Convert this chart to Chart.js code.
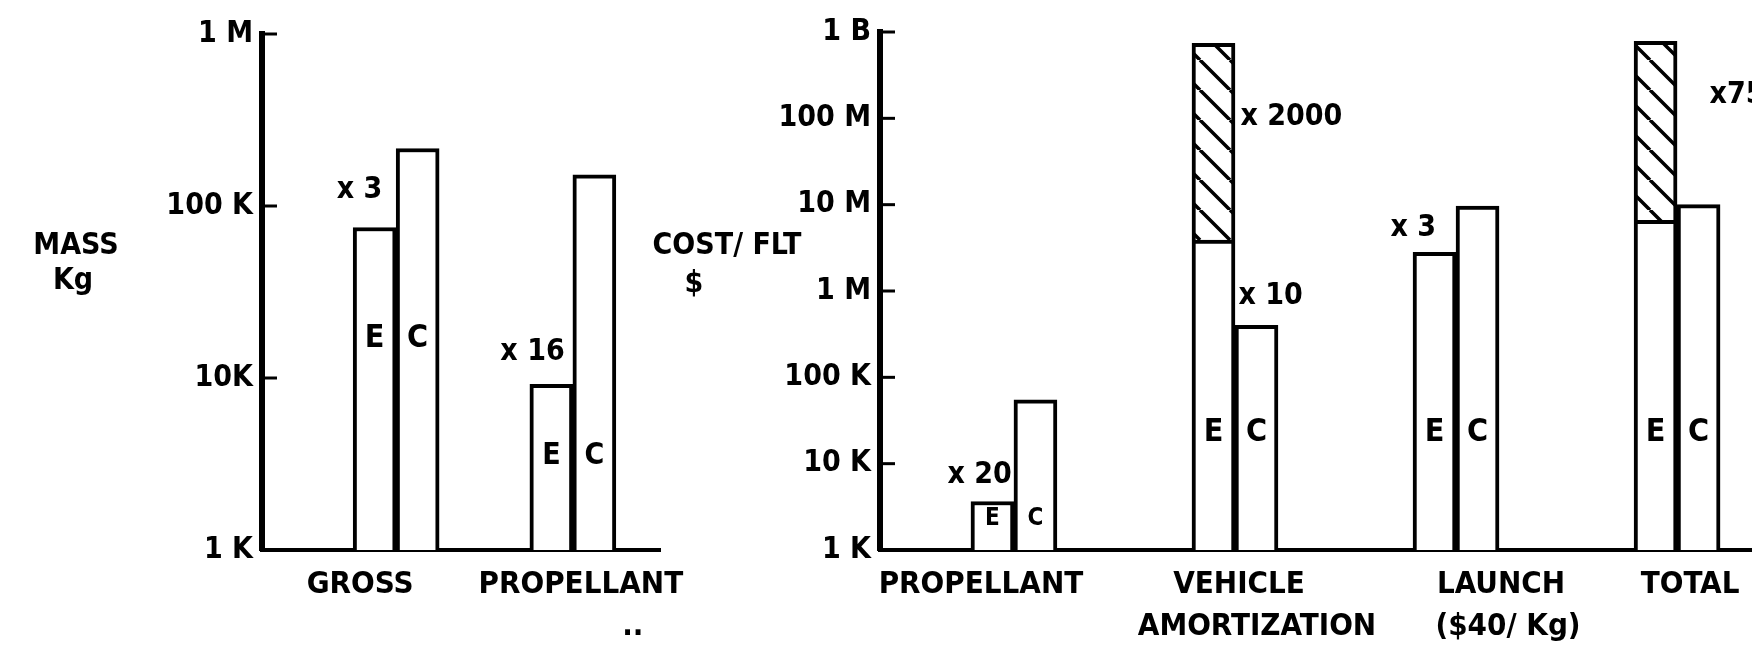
<!DOCTYPE html>
<html>
<head>
<meta charset="utf-8">
<script src="https://cdn.jsdelivr.net/npm/chart.js@4.4.1/dist/chart.umd.min.js"></script>
<style>
  html, body { margin: 0; padding: 0; background: #fff; }
  body { width: 1752px; height: 652px; position: relative; overflow: hidden; }
  canvas { position: absolute; top: 0; }
  #massChart { left: 0; }
  #costChart { left: 600px; }
</style>
</head>
<body>
<canvas id="massChart" width="700" height="652"></canvas>
<canvas id="costChart" width="1152" height="652"></canvas>
<script>
/* ===== E / C comparison: mass and cost per flight (log scales) ===== */
(function () {
  "use strict";

  // --- mass (Kg) ---
  var massCategories = [["GROSS"], ["PROPELLANT", ".."]];
  var massE = [75000, 9200];
  var massC = [216000, 152000];
  var massTickValues = [1e3, 1e4, 1e5, 1e6];
  var massTickLabels = ["1 K", "10K", "100 K", "1 M"];

  // --- cost per flight ($) ---
  var costCategories = [["PROPELLANT"], ["VEHICLE", "AMORTIZATION"], ["LAUNCH", "($40/ Kg)"], ["TOTAL"]];
  var costE = [3650, 3.9e6, 2.8e6, 6.6e6];
  var costEHatchTop = [null, 7.4e8, null, 7.8e8];   // hatched part of the E bar
  var costC = [55000, 400000, 9.6e6, 1.0e7];
  var costTickValues = [1e3, 1e4, 1e5, 1e6, 1e7, 1e8, 1e9];
  var costTickLabels = ["1 K", "10 K", "100 K", "1 M", "10 M", "100 M", "1 B"];

  var FONT = "'DejaVu Sans Condensed', 'Liberation Sans Narrow', 'DejaVu Sans', sans-serif";

  function hatchPattern(ctx) {
    var s = 30, c = document.createElement("canvas");
    c.width = s; c.height = s;
    var g = c.getContext("2d");
    g.fillStyle = "#fff"; g.fillRect(0, 0, s, s);
    g.strokeStyle = "#000"; g.lineWidth = 3.5;
    g.beginPath();
    [-s, 0, s].forEach(function (k) { g.moveTo(k, 0); g.lineTo(k + s, s); });
    g.stroke();
    return ctx.createPattern(c, "repeat");
  }

  function makeChart(id, cfg) {
    var el = document.getElementById(id);
    var bar = { borderColor: "#000", borderWidth: 4, barThickness: 43, borderSkipped: "start" };
    var datasets = [Object.assign({ label: "E", stack: "E", backgroundColor: "#fff",
      data: cfg.e.map(function (v, i) { return { x: i, y: v }; }) }, bar)];
    if (cfg.hatchTop) {
      var hd = [];
      cfg.hatchTop.forEach(function (t, i) { if (t) hd.push({ x: i, y: [cfg.e[i], t] }); });
      datasets.push(Object.assign({ label: "E (hatched)", stack: "E", backgroundColor: hatchPattern(el.getContext("2d")), data: hd }, bar));
    }
    datasets.push(Object.assign({ label: "C", stack: "C", backgroundColor: "#fff",
      data: cfg.c.map(function (v, i) { return { x: i, y: v }; }) }, bar));

    var notes = {
      id: "notes",
      afterDatasetsDraw: function (chart) {
        var ctx = chart.ctx, xs = chart.scales.x, ys = chart.scales.y, a = chart.chartArea;
        var eMeta = chart.getDatasetMeta(0), cMeta = chart.getDatasetMeta(datasets.length - 1);
        ctx.save();
        ctx.fillStyle = "#000"; ctx.strokeStyle = "#000";
        // tick marks pointing into the plot
        ctx.lineWidth = 3;
        ys.ticks.forEach(function (t, k) {
          if (k === 0) return;
          var y = ys.getPixelForValue(t.value);
          ctx.beginPath(); ctx.moveTo(a.left, y); ctx.lineTo(a.left + 15, y); ctx.stroke();
        });
        ctx.textBaseline = "middle"; ctx.textAlign = "center";
        // axis title (horizontal, left of the axis)
        ctx.font = "bold 30px " + FONT;
        cfg.title.forEach(function (t) { ctx.fillText(t.text, t.x, t.y); });
        // category names
        ctx.font = "bold 31px " + FONT;
        cfg.categories.forEach(function (lines, i) {
          lines.forEach(function (s, j) {
            ctx.fillText(s, xs.getPixelForValue(i) + cfg.labelNudge[i][j], a.bottom + 35 + j * 42);
          });
        });
        // E / C letters inside the bars
        cfg.categories.forEach(function (l, i) {
          var y = ys.getPixelForValue(cfg.letterAt[i]);
          ctx.font = "bold " + cfg.letterSize[i] + "px " + FONT;
          ctx.fillText("E", eMeta.data[i].x, y);
          ctx.fillText("C", cMeta.data[i].x, y);
        });
        // ratio notes
        ctx.font = "bold 30px " + FONT; ctx.textAlign = "left";
        cfg.notes.forEach(function (n) {
          var i = n.i, v, x;
          if (n.s === "E") { v = (cfg.hatchTop && cfg.hatchTop[i]) || cfg.e[i]; x = eMeta.data[i].x; }
          else { v = cfg.c[i]; x = cMeta.data[i].x; }
          ctx.fillText(n.text, x + n.dx, ys.getPixelForValue(v) + n.dy);
        });
        ctx.restore();
      }
    };

    return new Chart(el, {
      type: "bar",
      data: { datasets: datasets },
      plugins: [notes],
      options: {
        responsive: false, animation: false, events: [],
        layout: { padding: cfg.padding },
        plugins: { legend: { display: false }, tooltip: { enabled: false } },
        scales: {
          x: {
            type: "linear", min: cfg.xMin, max: cfg.xMax, stacked: true, offset: false,
            grid: { display: false, drawTicks: false, offset: false },
            ticks: { display: false },
            border: { display: true, color: "#000", width: 4 },
            afterFit: function (s) { s.height = 102; }
          },
          y: {
            type: "logarithmic", min: cfg.ticks[0], max: cfg.ticks[cfg.ticks.length - 1], stacked: false,
            grid: { display: false, drawTicks: false },
            border: { display: true, color: "#000", width: 6 },
            afterBuildTicks: function (s) { s.ticks = cfg.ticks.map(function (v) { return { value: v }; }); },
            ticks: {
              autoSkip: false, color: "#000", padding: 9,
              font: { family: FONT, size: 30, weight: "bold" },
              callback: function (v, k) { return cfg.tickLabels[k]; }
            },
            afterFit: function (s) { s.width = cfg.axisWidth; }
          }
        }
      }
    });
  }

  makeChart("massChart", {
    categories: massCategories, e: massE, c: massC,
    ticks: massTickValues, tickLabels: massTickLabels,
    xMin: -0.759, xMax: 1.493, axisWidth: 262,
    padding: { top: 34, right: 40, left: 0, bottom: 0 },
    title: [{ text: "MASS", x: 76, y: 246 }, { text: "Kg", x: 73, y: 281 }],
    labelNudge: [[-36], [8, 60]],
    letterAt: [16900, 3500], letterSize: [32, 30],
    notes: [
      { text: "x 3", i: 0, s: "E", dx: -38, dy: -37 },
      { text: "x 16", i: 1, s: "E", dx: -51, dy: -32 }
    ]
  });

  makeChart("costChart", {
    categories: costCategories, e: costE, hatchTop: costEHatchTop, c: costC,
    ticks: costTickValues, tickLabels: costTickLabels,
    xMin: -0.606, xMax: 3.339, axisWidth: 280,
    padding: { top: 32, right: 0, left: 0, bottom: 0 },
    title: [{ text: "COST/ FLT", x: 127, y: 246 }, { text: "$", x: 94, y: 284 }],
    labelNudge: [[-33], [4, 22], [45, 52], [13]],
    letterAt: [2300, 22600, 22600, 22600], letterSize: [24, 32, 32, 32],
    notes: [
      { text: "x 20", i: 0, s: "E", dx: -45, dy: -26 },
      { text: "x 2000", i: 1, s: "E", dx: 27, dy: 74 },
      { text: "x 10", i: 1, s: "C", dx: -18, dy: -29 },
      { text: "x 3", i: 2, s: "E", dx: -44, dy: -24 },
      { text: "x75", i: 3, s: "E", dx: 54, dy: 54 }
    ]
  });
})();
</script>
</body>
</html>
